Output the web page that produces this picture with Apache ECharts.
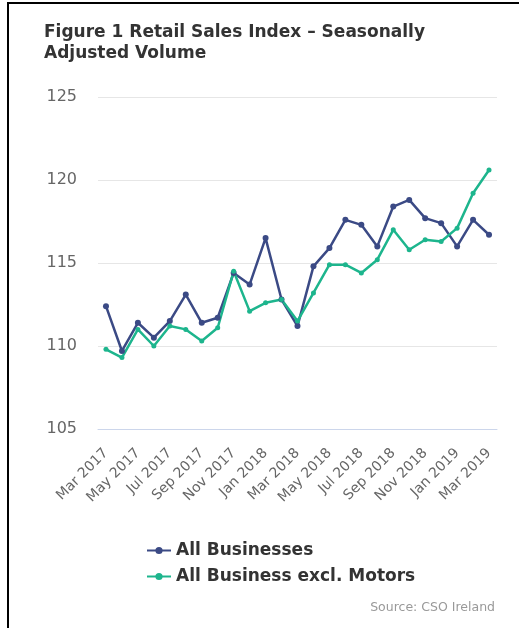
<!DOCTYPE html>
<html>
<head>
<meta charset="utf-8">
<script src="https://cdn.jsdelivr.net/npm/echarts@6/dist/echarts.min.js"></script>
<style>
  html, body { margin: 0; padding: 0; background: #fff; }
  #wrap { position: relative; width: 519px; height: 628px; overflow: hidden; }
  #frame {
    position: absolute; left: 7px; top: 2px; right: -10px; bottom: -10px;
    border-left: 2px solid #000; border-top: 2px solid #000;
    pointer-events: none;
  }
  #retailChart { width: 519px; height: 628px; }
</style>
</head>
<body>
<div id="wrap">
  <div id="retailChart"></div>
  <div id="frame"></div>
</div>
<script>
  // months Mar 2017 .. Mar 2019
  const months = [
    'Mar 2017', 'Apr 2017', 'May 2017', 'Jun 2017', 'Jul 2017', 'Aug 2017', 'Sep 2017',
    'Oct 2017', 'Nov 2017', 'Dec 2017', 'Jan 2018', 'Feb 2018', 'Mar 2018', 'Apr 2018',
    'May 2018', 'Jun 2018', 'Jul 2018', 'Aug 2018', 'Sep 2018', 'Oct 2018', 'Nov 2018',
    'Dec 2018', 'Jan 2019', 'Feb 2019', 'Mar 2019'
  ]
  const allBusinesses = [
    112.4, 109.7, 111.4, 110.5, 111.5, 113.1, 111.4, 111.7, 114.4, 113.7, 116.5, 112.8, 111.2,
    114.8, 115.9, 117.6, 117.3, 116.0, 118.4, 118.8, 117.7, 117.4, 116.0, 117.6, 116.7
  ]
  const exclMotors = [
    109.8, 109.3, 111.0, 110.0, 111.2, 111.0, 110.3, 111.1, 114.5, 112.1, 112.6, 112.8, 111.5,
    113.2, 114.9, 114.9, 114.4, 115.2, 117.0, 115.8, 116.4, 116.3, 117.1, 119.2, 120.6
  ]
  const yTicks = { min: 105, max: 125, step: 5 }
  const legendNames = ['All Businesses', 'All Business excl. Motors']

  const font = 'DejaVu Sans'
  const chart = echarts.init(document.getElementById('retailChart'))
  chart.setOption({
    animation: false,
    title: [
      {
        text: 'Figure 1 Retail Sales Index – Seasonally\nAdjusted Volume',
        left: 44,
        top: 22,
        padding: 0,
        textStyle: {
          fontFamily: font,
          fontSize: 17,
          fontWeight: 'bold',
          color: '#333',
          lineHeight: 21
        }
      },
      {
        text: 'Source: CSO Ireland',
        right: 24,
        top: 601,
        padding: 0,
        textStyle: {
          fontFamily: font,
          fontSize: 12.5,
          fontWeight: 'normal',
          color: '#999'
        }
      }
    ],
    legend: {
      orient: 'vertical',
      left: 141,
      top: 537,
      itemGap: 9,
      itemWidth: 24,
      itemHeight: 9,
      textStyle: {
        fontFamily: font,
        fontSize: 17,
        fontWeight: 'bold',
        color: '#333'
      },
      data: legendNames
    },
    grid: {
      left: 98,
      right: 22,
      top: 97,
      bottom: 199
    },
    xAxis: {
      type: 'category',
      data: months,
      boundaryGap: true,
      axisLine: { lineStyle: { color: '#ccd6eb', width: 1 } },
      axisTick: { show: false },
      axisLabel: {
        interval: 1,
        rotate: 45,
        margin: 22,
        fontFamily: font,
        fontSize: 14,
        color: '#666'
      }
    },
    yAxis: {
      type: 'value',
      min: yTicks.min,
      max: yTicks.max,
      interval: yTicks.step,
      axisLine: { show: false },
      axisTick: { show: false },
      splitLine: { lineStyle: { color: '#e6e6e6', width: 1 } },
      axisLabel: {
        margin: 21,
        fontFamily: font,
        fontSize: 16,
        color: '#666'
      }
    },
    series: [
      {
        name: legendNames[0],
        type: 'line',
        data: allBusinesses,
        symbol: 'circle',
        symbolSize: 6,
        lineStyle: { width: 2.5, color: '#3b4a85' },
        itemStyle: { color: '#3b4a85' }
      },
      {
        name: legendNames[1],
        type: 'line',
        data: exclMotors,
        symbol: 'circle',
        symbolSize: 5,
        lineStyle: { width: 2.5, color: '#1db58d' },
        itemStyle: { color: '#1db58d' }
      }
    ]
  })
</script>
</body>
</html>
